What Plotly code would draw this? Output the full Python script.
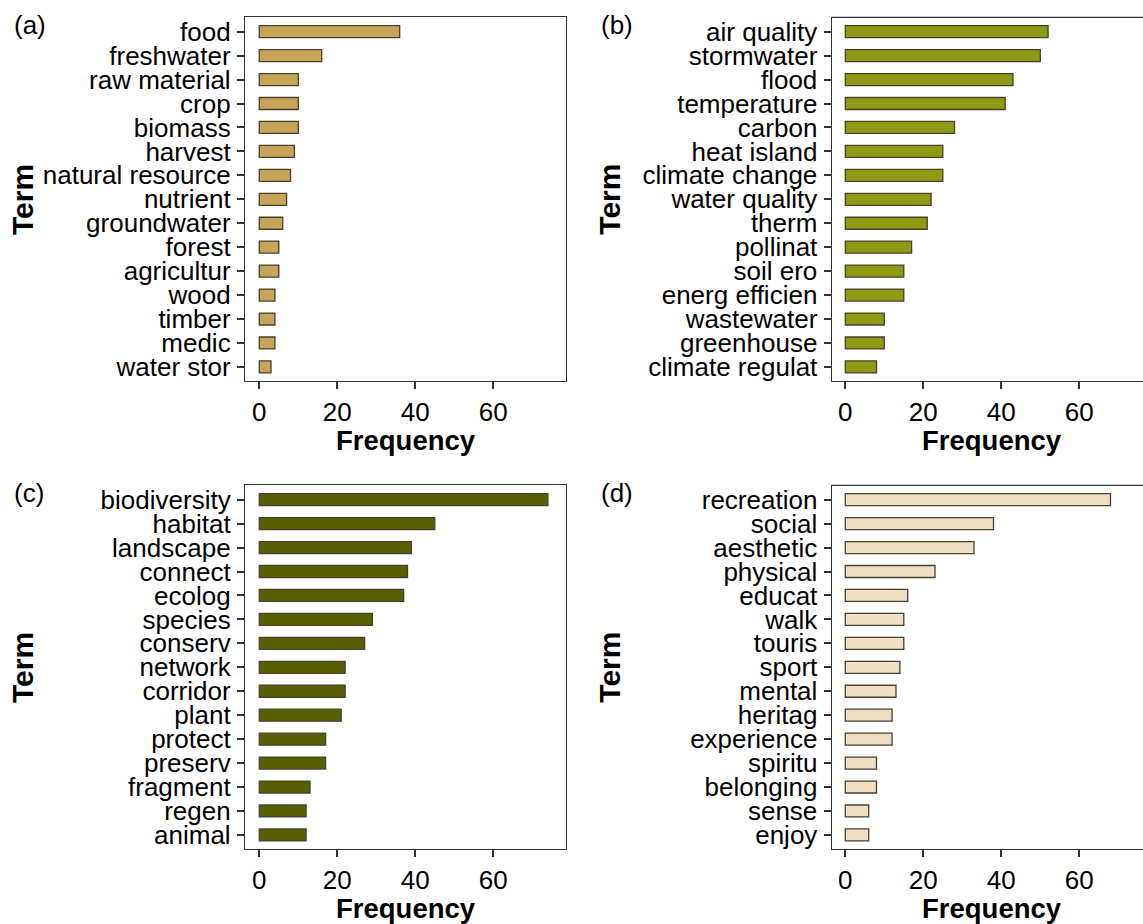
import plotly.graph_objects as go

W, H = 1143, 924

# ---- data ----
terms_a = ["food", "freshwater", "raw material", "crop", "biomass", "harvest",
           "natural resource", "nutrient", "groundwater", "forest", "agricultur",
           "wood", "timber", "medic", "water stor"]
freq_a = [36, 16, 10, 10, 10, 9, 8, 7, 6, 5, 5, 4, 4, 4, 3]

terms_b = ["air quality", "stormwater", "flood", "temperature", "carbon", "heat island",
           "climate change", "water quality", "therm", "pollinat", "soil ero",
           "energ efficien", "wastewater", "greenhouse", "climate regulat"]
freq_b = [52, 50, 43, 41, 28, 25, 25, 22, 21, 17, 15, 15, 10, 10, 8]

terms_c = ["biodiversity", "habitat", "landscape", "connect", "ecolog", "species",
           "conserv", "network", "corridor", "plant", "protect", "preserv",
           "fragment", "regen", "animal"]
freq_c = [74, 45, 39, 38, 37, 29, 27, 22, 22, 21, 17, 17, 13, 12, 12]

terms_d = ["recreation", "social", "aesthetic", "physical", "educat", "walk", "touris",
           "sport", "mental", "heritag", "experience", "spiritu", "belonging",
           "sense", "enjoy"]
freq_d = [68, 38, 33, 23, 16, 15, 15, 14, 13, 12, 12, 8, 8, 6, 6]

panel_labels = ["(a)", "(b)", "(c)", "(d)"]
x_ticks = [0, 20, 40, 60]

colors = ["#C8A458", "#8F9A13", "#5A6000", "#EEDFC1"]
outline = "#4a4030"

FONT = "Liberation Sans, Arial, sans-serif"

# ---- pixel geometry ----
def px_x(x):
    return x / W

def px_y(y):
    return 1 - y / H

left_x0, left_x1 = 245, 566
right_x0 = 831.7
top_y0, top_y1 = 17.3, 381.3
bot_y0, bot_y1 = 485.3, 849.3
ppu = 3.9  # pixels per unit
zero_left = 259.3
zero_right = 845.3

panels = [
    (terms_a, freq_a, (left_x0, left_x1), (top_y0, top_y1), zero_left, True),
    (terms_b, freq_b, (right_x0, W), (top_y0, top_y1), zero_right, False),
    (terms_c, freq_c, (left_x0, left_x1), (bot_y0, bot_y1), zero_left, True),
    (terms_d, freq_d, (right_x0, W), (bot_y0, bot_y1), zero_right, False),
]

fig = go.Figure()
layout = dict(width=W, height=H, margin=dict(l=0, r=0, t=0, b=0, autoexpand=False),
              template="none",
              paper_bgcolor="white", plot_bgcolor="white", showlegend=False,
              font=dict(family=FONT, color="black"))
annotations = []
shapes = []

for i, (terms, freq, (x0, x1), (y0, y1), zero, mirror) in enumerate(panels):
    n = i + 1
    xa = "x" if n == 1 else f"x{n}"
    ya = "y" if n == 1 else f"y{n}"
    fig.add_trace(go.Bar(
        x=freq, y=terms, orientation="h", width=0.5,
        marker=dict(color=colors[i], line=dict(color=outline, width=1.3)),
        xaxis=xa, yaxis=ya, hoverinfo="x+y"))
    xr = [(x0 - zero) / ppu, (x1 - zero) / ppu]
    layout["xaxis" if n == 1 else f"xaxis{n}"] = dict(
        domain=[px_x(x0), px_x(x1)], range=xr, anchor=ya, automargin=False,
        tickmode="array", tickvals=x_ticks, ticks="outside", ticklen=7, tickwidth=1.5,
        tickcolor="#333333", showgrid=False, zeroline=False,
        showline=True, linecolor="#333333", linewidth=1.3, mirror=mirror,
        tickfont=dict(size=26, family=FONT, color="black"), fixedrange=True)
    layout["yaxis" if n == 1 else f"yaxis{n}"] = dict(
        domain=[px_y(y1), px_y(y0)], anchor=xa, type="category", automargin=False,
        categoryorder="array", categoryarray=terms[::-1],
        tickmode="array", tickvals=terms, ticktext=terms,
        range=[-0.6, len(terms) - 0.4],
        ticks="outside", ticklen=7, tickwidth=1.5, tickcolor="#333333",
        showgrid=False, zeroline=False,
        showline=True, linecolor="#333333", linewidth=1.3, mirror=mirror,
        tickfont=dict(size=26, family=FONT, color="black"),
        ticklabelstandoff=1, fixedrange=True)
    if not mirror:
        shapes.append(dict(type="line", xref="paper", yref="paper",
                           x0=px_x(x0), x1=1.0, y0=px_y(y0), y1=px_y(y0),
                           line=dict(color="#333333", width=1.3)))
    # axis titles
    full_right = zero + ((left_x1 - zero_left) / ppu) * ppu
    cx = (x0 + full_right) / 2
    annotations.append(dict(text="<b>Frequency</b>", xref="paper", yref="paper",
                            x=px_x(cx), y=px_y(y1 + 59.5), xanchor="center",
                            yanchor="middle", showarrow=False,
                            font=dict(size=27.5, family=FONT, color="black")))
    annotations.append(dict(text="<b>Term</b>", xref="paper", yref="paper",
                            x=px_x(x0 - 222.3), y=px_y((y0 + y1) / 2),
                            xanchor="center", yanchor="middle", textangle=-90,
                            showarrow=False,
                            font=dict(size=30, family=FONT, color="black")))
    annotations.append(dict(text=panel_labels[i], xref="paper", yref="paper",
                            x=px_x(x0 - 233), y=px_y(y0 + 8), xanchor="left",
                            yanchor="middle", showarrow=False,
                            font=dict(size=26, family=FONT, color="black")))

layout["annotations"] = annotations
layout["shapes"] = shapes
fig.update_layout(**layout)
fig.write_html("out.html", config={"displayModeBar": False},
               post_script="document.body.style.margin='0';document.body.style.overflow='hidden';")
